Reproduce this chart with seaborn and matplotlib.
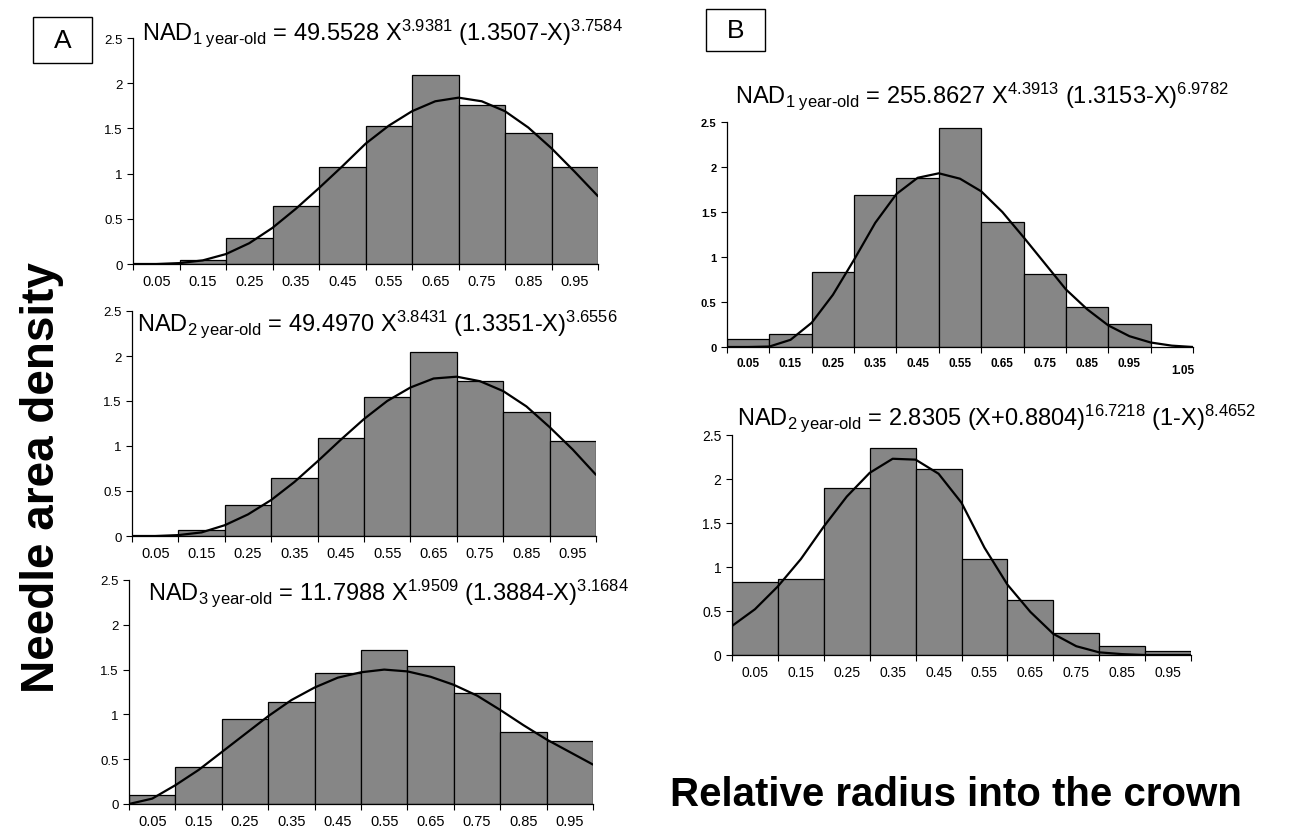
import numpy as np
import pandas as pd
import seaborn as sns
import matplotlib.pyplot as plt
from matplotlib.patches import Rectangle

# bin edges / centres (relative radius)
edges = np.round(np.arange(0, 1.01, 0.1), 2)
centers = np.round(edges[:-1] + 0.05, 2)
curve_x = np.round(np.arange(0, 1.001, 0.05), 2)
curve_x_b1 = np.round(np.arange(0, 1.101, 0.05), 2)
tick_labels = ["0.05", "0.15", "0.25", "0.35", "0.45", "0.55", "0.65", "0.75", "0.85", "0.95"]

# panel A (1, 2, 3 year-old needles)
a1_bars = [0.005, 0.04, 0.29, 0.64, 1.07, 1.53, 2.09, 1.76, 1.45, 1.07]
a1_curve = [0, 0, 0.01, 0.04, 0.11, 0.23, 0.40, 0.61, 0.84, 1.08, 1.33,
            1.53, 1.69, 1.80, 1.84, 1.80, 1.69, 1.51, 1.28, 1.02, 0.75]
a2_bars = [0.005, 0.07, 0.35, 0.65, 1.09, 1.54, 2.05, 1.72, 1.38, 1.06]
a2_curve = [0, 0, 0.01, 0.04, 0.12, 0.24, 0.40, 0.60, 0.83, 1.07, 1.30,
            1.50, 1.65, 1.75, 1.77, 1.72, 1.61, 1.44, 1.21, 0.96, 0.68]
a3_bars = [0.10, 0.41, 0.95, 1.14, 1.46, 1.72, 1.54, 1.24, 0.80, 0.70]
a3_curve = [0, 0.06, 0.21, 0.38, 0.58, 0.78, 0.98, 1.16, 1.30, 1.41, 1.47,
            1.50, 1.48, 1.42, 1.33, 1.21, 1.05, 0.88, 0.72, 0.58, 0.44]

# panel B (1, 2 year-old needles)
b1_bars = [0.09, 0.15, 0.83, 1.69, 1.88, 2.43, 1.39, 0.81, 0.44, 0.26]
b1_curve = [0, 0, 0.005, 0.08, 0.27, 0.58, 0.97, 1.38, 1.70, 1.88, 1.93, 1.87,
            1.73, 1.50, 1.22, 0.93, 0.64, 0.42, 0.24, 0.12, 0.05, 0.015, 0.0]
b2_bars = [0.83, 0.86, 1.90, 2.35, 2.11, 1.09, 0.62, 0.25, 0.10, 0.04]
b2_curve = [0.33, 0.52, 0.78, 1.09, 1.46, 1.80, 2.07, 2.23, 2.22, 2.06, 1.73,
            1.22, 0.80, 0.49, 0.24, 0.10, 0.03, 0.01, 0.0, 0.0, 0.0]

titles = {
    "a1": r"NAD$_{\text{1 year-old}}$ = 49.5528 X$^{\mathrm{3.9381}}$ (1.3507-X)$^{\mathrm{3.7584}}$",
    "a2": r"NAD$_{\text{2 year-old}}$ = 49.4970 X$^{\mathrm{3.8431}}$ (1.3351-X)$^{\mathrm{3.6556}}$",
    "a3": r"NAD$_{\text{3 year-old}}$ = 11.7988 X$^{\mathrm{1.9509}}$ (1.3884-X)$^{\mathrm{3.1684}}$",
    "b1": r"NAD$_{\text{1 year-old}}$ = 255.8627 X$^{\mathrm{4.3913}}$ (1.3153-X)$^{\mathrm{6.9782}}$",
    "b2": r"NAD$_{\text{2 year-old}}$ = 2.8305 (X+0.8804)$^{\mathrm{16.7218}}$ (1-X)$^{\mathrm{8.4652}}$",
}

sns.set_style("ticks")
plt.rcParams["font.family"] = ["Liberation Sans", "DejaVu Sans"]
plt.rcParams["mathtext.fontset"] = "custom"
plt.rcParams["mathtext.rm"] = "Liberation Sans"
plt.rcParams["mathtext.it"] = "Liberation Sans:italic"
plt.rcParams["mathtext.bf"] = "Liberation Sans:bold"
for key in ["text.color", "axes.labelcolor", "xtick.color", "ytick.color", "axes.edgecolor"]:
    plt.rcParams[key] = "black"

W, H = 1290, 829
fig = plt.figure(figsize=(W / 100, H / 100), dpi=100)


def px_axes(x0, y0, x1, ytop):
    # pixel box -> figure fraction
    return fig.add_axes([x0 / W, 1 - y0 / H, (x1 - x0) / W, (y0 - ytop) / H])


def draw_panel(ax, bars, cx, curve, xmax, ylab_size, xlab_size, weight="normal"):
    df = pd.DataFrame({"radius": centers, "density": bars})
    sns.histplot(data=df, x="radius", weights="density", binwidth=0.1, binrange=(0, 1),
                 stat="count", color="#868686", edgecolor="black", linewidth=0.9,
                 alpha=1, ax=ax)
    sns.lineplot(x=cx, y=curve, color="black", linewidth=1.6, ax=ax,
                 solid_joinstyle="round", solid_capstyle="round")
    ax.set_xlim(0, xmax)
    ax.set_ylim(0, 2.5)
    sns.despine(ax=ax)
    ax.set_xlabel("")
    ax.set_ylabel("")
    ax.set_yticks([0, 0.5, 1, 1.5, 2, 2.5])
    ax.set_yticklabels(["0", "0.5", "1", "1.5", "2", "2.5"], fontsize=ylab_size, fontweight=weight)
    ax.set_xticks(np.round(np.arange(0, xmax + 0.01, 0.1), 2))
    ax.set_xticklabels([])
    ax.set_xticks(centers, minor=True)
    ax.set_xticklabels(tick_labels, minor=True, fontsize=xlab_size, fontweight=weight)
    ax.tick_params(axis="x", which="minor", length=0, pad=7)
    ax.tick_params(axis="both", which="major", length=4, width=0.8, color="black")
    for s in ["left", "bottom"]:
        ax.spines[s].set_linewidth(0.9)
        ax.spines[s].set_color("black")


ax_a1 = px_axes(133, 265, 598, 39)
draw_panel(ax_a1, a1_bars, curve_x, a1_curve, 1.0, 9.5, 10.5)
ax_a2 = px_axes(132, 537, 596, 312)
draw_panel(ax_a2, a2_bars, curve_x, a2_curve, 1.0, 9.5, 10.5)
ax_a3 = px_axes(129, 805, 593, 581)
draw_panel(ax_a3, a3_bars, curve_x, a3_curve, 1.0, 9.5, 10.5)
ax_b1 = px_axes(727, 348, 1193, 123)
draw_panel(ax_b1, b1_bars, curve_x_b1, b1_curve, 1.1, 8, 8.5, weight="bold")
ax_b1.text(1.075, -0.075, "1.05", transform=ax_b1.get_xaxis_transform(),
           ha="center", va="top", fontsize=8.5, fontweight="bold")
ax_b2 = px_axes(732, 656, 1191, 436)
draw_panel(ax_b2, b2_bars, curve_x, b2_curve, 1.0, 10, 10)

# equations
fs = 17
fig.text(142 / W, 1 - 40 / H, titles["a1"], fontsize=fs, va="baseline")
fig.text(137 / W, 1 - 331 / H, titles["a2"], fontsize=fs, va="baseline")
fig.text(148 / W, 1 - 600 / H, titles["a3"], fontsize=fs, va="baseline")
fig.text(735 / W, 1 - 103 / H, titles["b1"], fontsize=fs, va="baseline")
fig.text(737 / W, 1 - 425 / H, titles["b2"], fontsize=fs, va="baseline")

# panel letters in boxes
for (x0, y0, x1, y1, lab) in [(33, 18, 92, 64, "A"), (706, 10, 765, 52, "B")]:
    fig.patches.append(Rectangle((x0 / W, 1 - y1 / H), (x1 - x0) / W, (y1 - y0) / H,
                                 transform=fig.transFigure, fill=False,
                                 edgecolor="black", linewidth=1))
    fig.text((x0 + x1) / 2 / W, 1 - (y0 + y1) / 2 / H, lab, fontsize=19,
             ha="center", va="center")

fig.text(42 / W, 1 - 478 / H, "Needle area density", rotation=90, fontsize=33,
         fontweight="bold", ha="center", va="center")
fig.text(956 / W, 1 - 795 / H, "Relative radius into the crown", fontsize=29,
         fontweight="bold", ha="center", va="center")

fig.savefig("out.png", dpi=100, facecolor="white")
